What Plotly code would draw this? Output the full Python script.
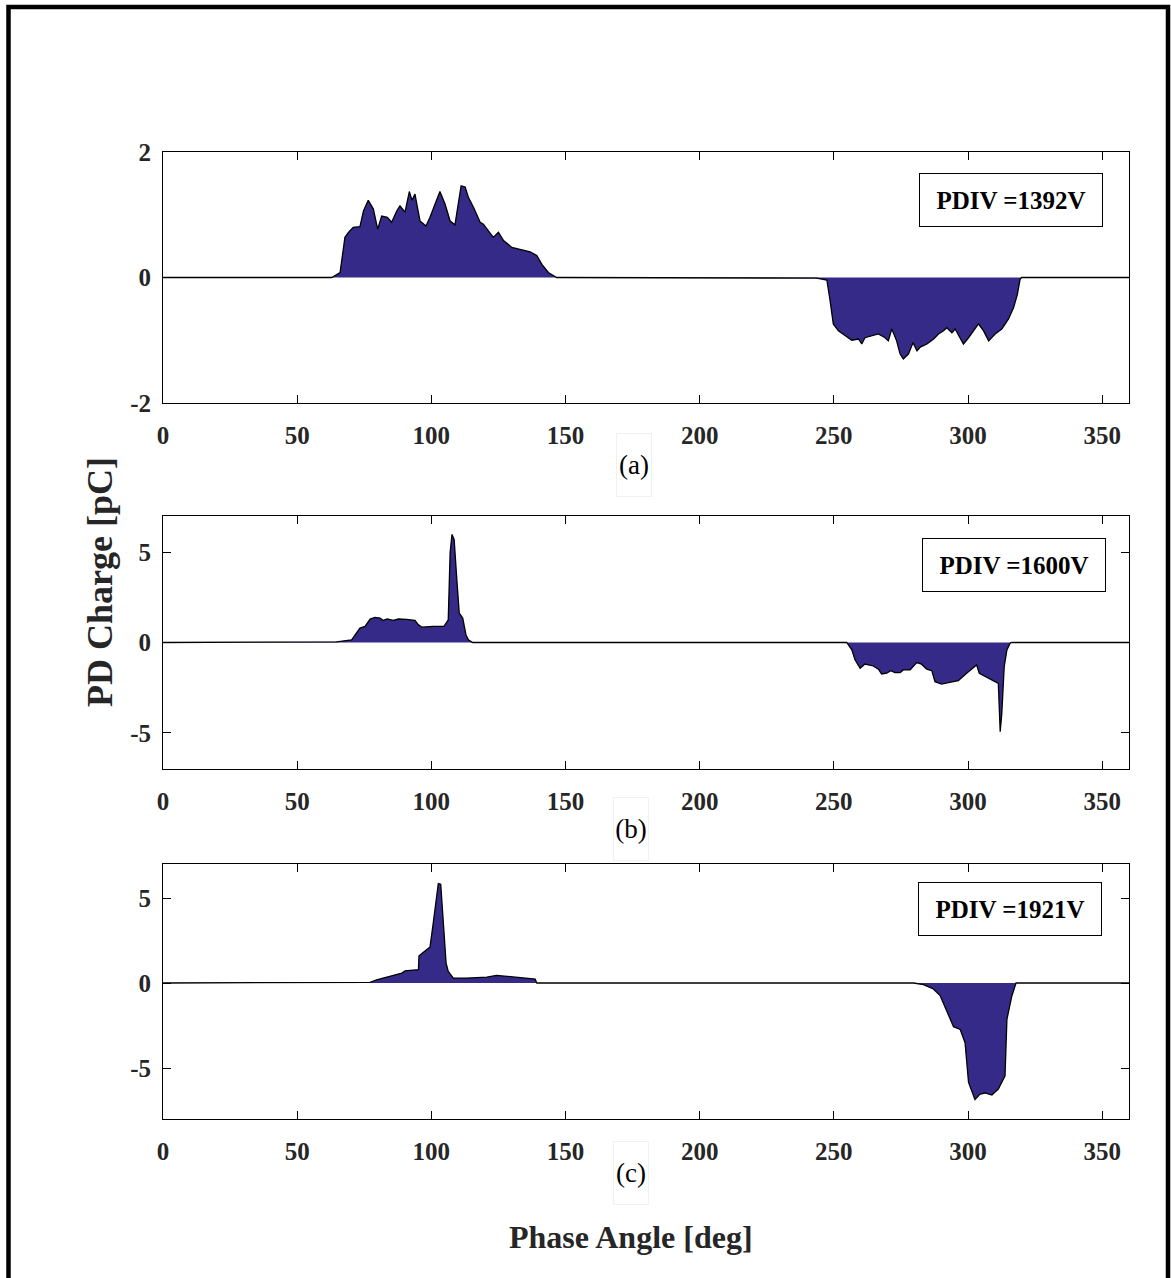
import plotly.graph_objects as go

# ---------------- data ----------------
phase_a = [0, 62.9, 66.0, 67.8, 69.1, 70.9, 73.4, 74.7, 76.5, 78.4, 80.0, 81.5, 83.6, 85.2, 87.1, 88.3,
           90.2, 91.8, 92.8, 93.9, 94.8, 95.8, 98.0, 99.5, 101.4, 103.2, 105.1, 107.0, 108.8, 110.1,
           111.1, 112.6, 113.8, 115.7, 118.2, 119.4, 120.7, 123.1, 125.0, 126.9, 130.0, 133.1, 136.8,
           139.3, 141.2, 143.6, 146.7,
           243.6, 247.4, 248.6, 249.8, 251.7, 254.2, 256.7, 259.2, 260.4, 261.6, 264.1, 266.6, 269.1,
           270.3, 271.6, 273.4, 274.7, 275.9, 277.8, 279.5, 281.0, 282.2, 284.7, 287.2, 289.0, 290.9,
           292.1, 294.0, 295.2, 297.1, 298.3, 300.2, 302.1, 303.9, 305.8, 307.7, 310.1, 312.6, 315.1,
           317.0, 318.4, 319.4, 320.0, 360]
charge_a = [0, 0, 0.08, 0.64, 0.72, 0.80, 0.81, 1.06, 1.23, 1.09, 0.77, 0.98, 0.96, 0.88, 1.06, 1.14,
            1.04, 1.37, 1.23, 1.33, 1.12, 0.90, 0.82, 0.96, 1.17, 1.37, 1.17, 0.90, 0.84, 1.17,
            1.46, 1.44, 1.28, 1.12, 0.88, 0.85, 0.77, 0.64, 0.72, 0.59, 0.48, 0.45, 0.41,
            0.35, 0.21, 0.08, 0,
            -0.01, -0.04, -0.37, -0.74, -0.85, -0.93, -1.00, -0.98, -1.06, -0.96, -0.93, -0.90, -0.96,
            -1.01, -0.82, -1.01, -1.22, -1.30, -1.22, -1.04, -1.17, -1.11, -1.06, -0.98, -0.90, -0.85,
            -0.80, -0.88, -0.82, -0.98, -1.06, -0.96, -0.85, -0.74, -0.85, -1.01, -0.90, -0.82, -0.66,
            -0.48, -0.27, -0.03, 0, 0]

phase_b = [0, 64.7, 70.3, 71.6, 73.4, 75.3, 77.2, 79.0, 80.9, 82.1, 83.6, 85.8, 87.7, 90.8, 93.9, 95.2,
           96.4, 100.7, 104.7, 106.3, 107.0, 107.7, 108.5, 109.5, 110.4, 111.7, 112.9, 113.8, 115.4,
           254.8, 256.7, 257.9, 259.8, 261.6, 264.7, 266.6, 267.8, 269.7, 271.2, 272.8, 274.7, 275.9,
           278.4, 280.9, 282.7, 284.6, 286.5, 287.7, 290.2, 292.7, 296.4, 299.5, 303.2, 304.2, 308.2,
           311.3, 312.0, 312.6, 313.5, 314.5, 315.7, 316.3, 360]
charge_b = [0, 0.04, 0.15, 0.43, 0.80, 0.89, 1.30, 1.39, 1.35, 1.22, 1.30, 1.22, 1.30, 1.28, 1.22, 0.98,
            0.85, 0.89, 0.89, 1.26, 4.96, 5.98, 5.70, 3.48, 1.63, 1.35, 0.43, 0.15, 0,
            0, -0.41, -0.96, -1.43, -1.19, -1.30, -1.48, -1.74, -1.70, -1.56, -1.67, -1.67, -1.52,
            -1.52, -1.11, -1.20, -1.48, -1.56, -2.17, -2.30, -2.22, -2.11, -1.70, -1.24, -1.70, -2.04,
            -2.26, -4.94, -3.93, -1.33, -0.41, -0.04, 0, 0]

phase_c = [0, 77.2, 79.6, 84.6, 89.0, 90.2, 95.2, 95.4, 99.5, 100.7, 102.6, 103.5, 104.5, 105.5, 106.3,
           108.2, 113.2, 120.7, 124.3, 128.1, 133.1, 138.7, 139.3,
           279.7, 283.4, 287.1, 289.6, 292.1, 294.6, 297.1, 298.9, 300.2, 302.6, 304.5, 306.4, 308.9,
           311.3, 313.8, 314.5, 316.3, 317.9, 360]
charge_c = [0, 0.04, 0.19, 0.39, 0.58, 0.72, 0.78, 1.60, 2.11, 3.51, 5.85, 5.81, 3.51, 1.17, 0.68,
            0.29, 0.29, 0.35, 0.45, 0.39, 0.29, 0.23, 0,
            0, -0.10, -0.35, -0.74, -1.66, -2.57, -2.73, -3.51, -5.85, -6.86, -6.53, -6.47, -6.59,
            -6.24, -5.46, -2.14, -0.78, 0, 0]

pdiv_labels = ["PDIV =1392V", "PDIV =1600V", "PDIV =1921V"]
panel_labels = ["(a)", "(b)", "(c)"]
y_ranges = [[-2, 2], [-7, 7], [-8, 7]]
y_ticks = [[-2, 0, 2], [-5, 0, 5], [-5, 0, 5]]
y_ticktext = [["-2", "0", "2"], ["-5", "0", "5"], ["-5", "0", "5"]]
x_ticks = [0, 50, 100, 150, 200, 250, 300, 350]
x_ticktext = ["0", "50", "100", "150", "200", "250", "300", "350"]

# ---------------- layout geometry (pixels) ----------------
W, H = 1171, 1278
x_left, x_right = 163, 1129
panels_px = [(152, 403), (516, 769), (864, 1119)]
pdiv_box_px = [(1011, 200), (1014, 565), (1010, 909)]
panel_label_px = [(634, 465), (631, 829), (631, 1173)]

FILL = "#352a87"
TICKFONT = dict(family="Liberation Serif", size=25, color="#262626", weight="bold")

def px_x(p):
    return p / W

def px_y(p):
    return 1 - p / H

fig = go.Figure()
series = [(phase_a, charge_a), (phase_b, charge_b), (phase_c, charge_c)]

layout_axes = {}
annotations = []
for i, ((xs, ys), (top, bot)) in enumerate(zip(series, panels_px)):
    k = "" if i == 0 else str(i + 1)
    fig.add_trace(go.Scatter(
        x=xs, y=ys, mode="lines", fill="tozeroy", fillcolor=FILL,
        line=dict(color="black", width=1.3), xaxis="x" + k, yaxis="y" + k,
        showlegend=False, hoverinfo="skip"))
    layout_axes["xaxis" + k] = dict(
        domain=[px_x(x_left), px_x(x_right)], anchor="y" + k, range=[0, 360],
        tickvals=x_ticks, ticktext=x_ticktext, ticks="inside", ticklen=8, tickcolor="black",
        showline=True, linecolor="black", linewidth=1, mirror="allticks",
        showgrid=False, zeroline=False, tickfont=TICKFONT, ticklabelstandoff=10)
    layout_axes["yaxis" + k] = dict(
        domain=[px_y(bot), px_y(top)], anchor="x" + k, range=y_ranges[i],
        tickvals=y_ticks[i], ticktext=y_ticktext[i], ticks="inside", ticklen=8, tickcolor="black",
        showline=True, linecolor="black", linewidth=1, mirror="allticks",
        showgrid=False, zeroline=False, tickfont=TICKFONT, ticklabelstandoff=6)
    bx, by = pdiv_box_px[i]
    annotations.append(dict(
        text="<b>" + pdiv_labels[i] + "</b>", xref="paper", yref="paper",
        x=px_x(bx), y=px_y(by), xanchor="center", yanchor="middle", showarrow=False,
        width=180, height=50, bordercolor="black", borderwidth=1, bgcolor="white",
        font=dict(family="Liberation Serif", size=25, color="black")))
    lx, ly = panel_label_px[i]
    annotations.append(dict(
        text=panel_labels[i], xref="paper", yref="paper",
        x=px_x(lx), y=px_y(ly), xanchor="center", yanchor="middle", showarrow=False,
        width=32, height=60, bordercolor="#eef2f2", borderwidth=1,
        font=dict(family="Liberation Serif", size=27, color="black")))

annotations.append(dict(
    text="<b>PD Charge [pC]</b>", xref="paper", yref="paper", x=px_x(100), y=px_y(582),
    xanchor="center", yanchor="middle", textangle=-90, showarrow=False,
    font=dict(family="Liberation Serif", size=36, color="#262626")))
annotations.append(dict(
    text="<b>Phase Angle [deg]</b>", xref="paper", yref="paper", x=px_x(631), y=px_y(1237),
    xanchor="center", yanchor="middle", showarrow=False,
    font=dict(family="Liberation Serif", size=32, color="#262626")))

fig.update_layout(
    width=W, height=H, margin=dict(l=0, r=0, t=0, b=0, autoexpand=False),
    paper_bgcolor="white", plot_bgcolor="white",
    annotations=annotations,
    shapes=[dict(type="rect", xref="paper", yref="paper",
                 x0=px_x(8.5), x1=px_x(1168), y0=-0.05, y1=px_y(7),
                 line=dict(color="black", width=4.5))],
    **layout_axes)

fig.write_html("out.html", config={"displayModeBar": False},
               post_script="document.body.style.margin='0px';document.body.style.overflow='hidden';")
